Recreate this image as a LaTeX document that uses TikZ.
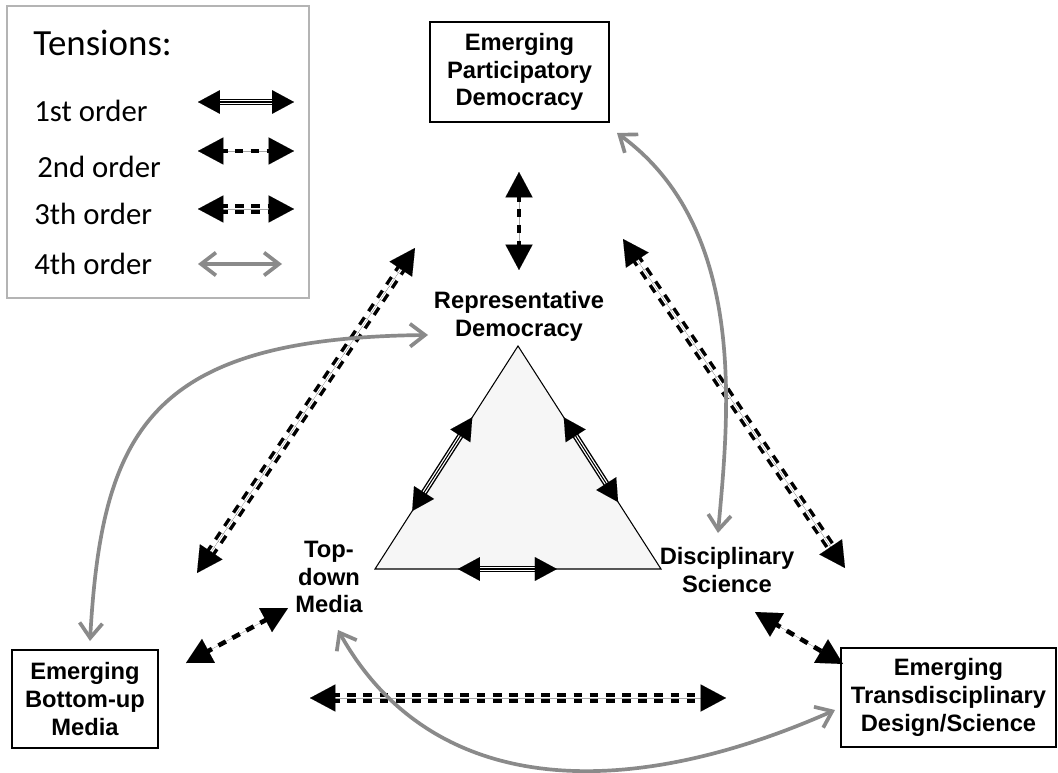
\documentclass[tikz,border=0pt]{standalone}
\usepackage{fontspec}
\setmainfont{Liberation Sans}
\newfontfamily\legendfont{Carlito}
\usetikzlibrary{arrows.meta,calc}
\definecolor{tgrey}{HTML}{8A8A8A}
\definecolor{tlight}{HTML}{F6F6F6}
\definecolor{tframe}{HTML}{B4B4B4}

\tikzset{
  bigtips/.style={{Triangle[length=14.5pt,width=15.5pt]}-{Triangle[length=14.5pt,width=15.5pt]}},
  smalltips/.style={{Triangle[length=12.5pt,width=13.5pt]}-{Triangle[length=12.5pt,width=13.5pt]}},
  first/.style={smalltips,line width=0.01pt,
    preaction={draw,-,line width=3.6pt,shorten <=10pt,shorten >=10pt},
    preaction={draw=white,-,line width=2pt,shorten <=10pt,shorten >=10pt},
    preaction={draw,-,line width=0.6pt,shorten <=10pt,shorten >=10pt}},
  second/.style={bigtips,line width=0.01pt,
    preaction={draw,-,line width=2.6pt,dash pattern=on 4.8pt off 4.2pt,shorten <=12pt,shorten >=12pt}},
  third/.style={bigtips,line width=0.01pt,
    preaction={draw,-,line width=2pt,double=white,double distance=1.7pt,
      dash pattern=on 5pt off 4.2pt,shorten <=12pt,shorten >=12pt}},
  fourth/.style={tgrey,line width=2.1pt,line cap=round,
    {Straight Barb[length=8.5pt,width=13pt]}-{Straight Barb[length=8.5pt,width=13pt]}},
  lbl/.style={font=\bfseries\fontsize{13.5}{15.8}\selectfont,align=center,inner sep=0pt},
  emerging/.style={lbl,draw,line width=0.8pt},
  lgd/.style={font=\legendfont\fontsize{17.5}{20}\selectfont,anchor=west,inner sep=0pt}
}

\begin{document}
\begin{tikzpicture}[x=0.02cm,y=-0.02cm]
  \useasboundingbox (0,0) rectangle (1058,773);

  % legend
  \draw[tframe,line width=0.8pt] (7,6) rectangle (309,298);
  \node[lgd,font=\legendfont\fontsize{21}{24}\selectfont] (tens) at (33,43) {Tensions:};
  \node[lgd] (ord1) at (34,111) {1st order};
  \node[lgd] (ord2) at (37,167) {2nd order};
  \node[lgd] (ord3) at (34,214) {3th order};
  \node[lgd] (ord4) at (34,264) {4th order};
  \coordinate (k1a) at (198,102); \coordinate (k1b) at (294,102);
  \coordinate (k2a) at (198,151); \coordinate (k2b) at (294,151);
  \coordinate (k3a) at (198,209); \coordinate (k3b) at (294,209);
  \coordinate (k4a) at (198,264); \coordinate (k4b) at (282,264);
  \draw[first] (k1a) -- (k1b);
  \draw[second] (k2a) -- (k2b);
  \draw[third] (k3a) -- (k3b);
  \draw[fourth] (k4a) -- (k4b);

  % inner triangle
  \coordinate (tA) at (518,346);
  \coordinate (tL) at (375,569);
  \coordinate (tR) at (661,569);
  \draw[fill=tlight,line width=0.6pt] (tA) -- (tL) -- (tR) -- cycle;
  \draw[first] ($(tA)!0.32!(tL)$) -- ($(tA)!0.74!(tL)$);
  \draw[first] ($(tA)!0.32!(tR)$) -- ($(tA)!0.70!(tR)$);
  \draw[first] ($(tL)!0.29!(tR)$) -- ($(tL)!0.636!(tR)$);

  % labels and boxes
  \node[lbl] (repr) at (519,316) {Representative\\Democracy};
  \node[lbl] (topd) at (329,577) {Top-\\down\\Media};
  \node[lbl] (disc) at (727,570) {Disciplinary\\Science};
  \node[emerging,minimum width=3.58cm,minimum height=2cm] (epart) at (519.5,72)
    {Emerging\\Participatory\\Democracy};
  \node[emerging,minimum width=2.92cm,minimum height=1.96cm] (ebott) at (85,699)
    {Emerging\\Bottom-up\\Media};
  \node[emerging,minimum width=4.3cm,minimum height=1.98cm] (etran) at (948.5,697.5)
    {Emerging\\Transdisciplinary\\Design/Science};

  % 2nd order
  \coordinate (s1a) at (519,172); \coordinate (s1b) at (519,270);
  \coordinate (s2a) at (186,663); \coordinate (s2b) at (288,608);
  \coordinate (s3a) at (755,612); \coordinate (s3b) at (843,664);
  \draw[second] (s1a) -- (s1b);
  \draw[second] (s2a) -- (s2b);
  \draw[second] (s3a) -- (s3b);

  % 3th order
  \coordinate (d1a) at (415,248); \coordinate (d1b) at (197,573);
  \coordinate (d2a) at (623,239); \coordinate (d2b) at (845,568);
  \coordinate (d3a) at (310,698); \coordinate (d3b) at (726,698);
  \draw[third] (d1a) -- (d1b);
  \draw[third] (d2a) -- (d2b);
  \draw[third] (d3a) -- (d3b);

  % 4th order
  \coordinate (g1a) at (90,641); \coordinate (g1b) at (428,335);
  \coordinate (g2a) at (617,133); \coordinate (g2b) at (718,533);
  \coordinate (g3a) at (338,630); \coordinate (g3b) at (835,710);
  \draw[fourth] (g1a) .. controls (102,430) and (150,338) .. (g1b);
  \draw[fourth] (g2a) .. controls (750,230) and (728,420) .. (g2b);
  \draw[fourth] (g3a) .. controls (430,795) and (620,805) .. (g3b);
\end{tikzpicture}
\end{document}
